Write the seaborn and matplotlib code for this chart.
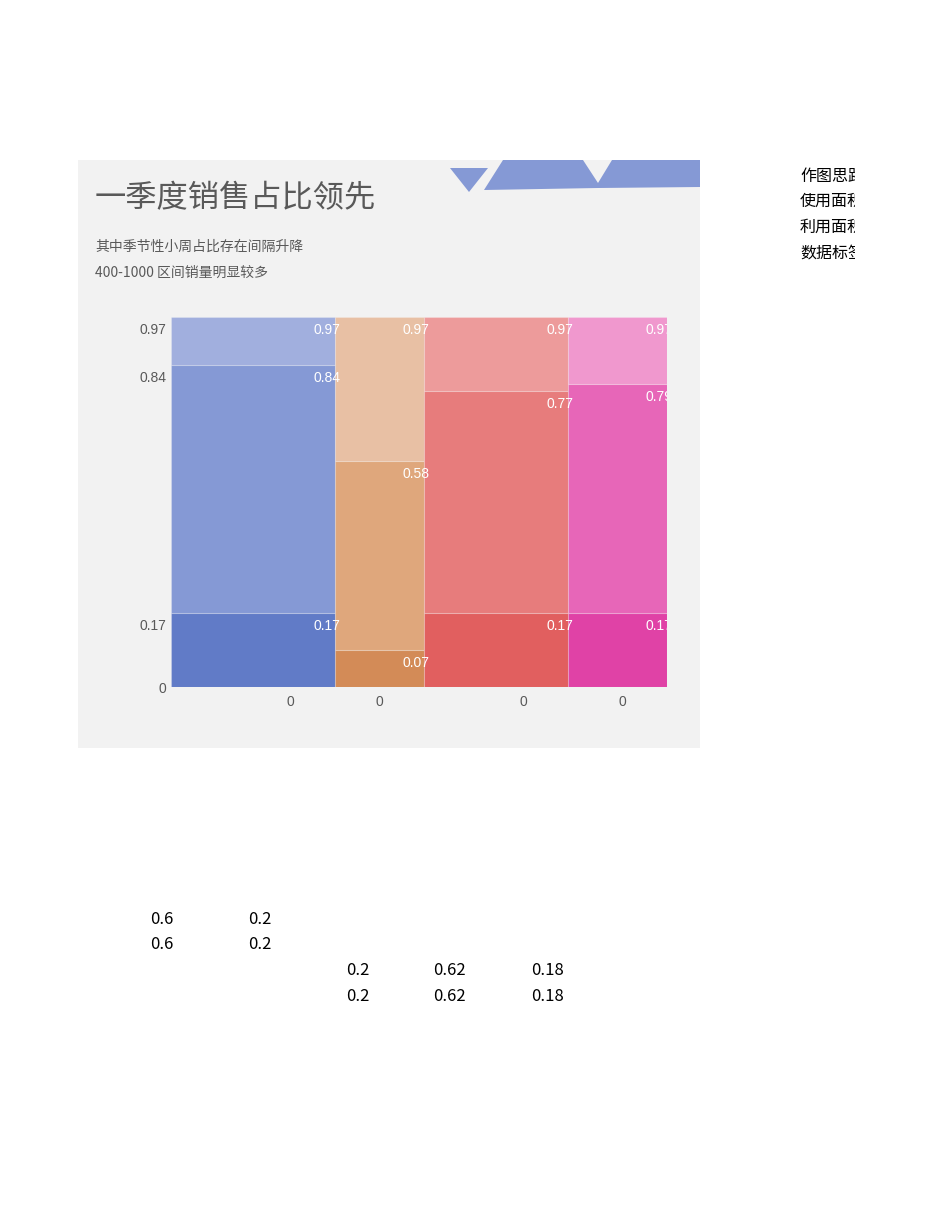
import numpy as np
import matplotlib
matplotlib.use("Agg")
import matplotlib.pyplot as plt
import matplotlib.transforms as mtransforms
from matplotlib.patches import Polygon, Rectangle
import seaborn as sns

# ---- data ----
columnas = ["Q1", "Q2", "Q3", "Q4"]
anchos = [0.33, 0.18, 0.29, 0.20]
# limites acumulados de cada segmento (bajo, medio, alto)
limites = [
    [0.17, 0.84, 0.97],
    [0.07, 0.58, 0.97],
    [0.17, 0.77, 0.97],
    [0.17, 0.79, 0.97],
]
y_ticks = [0, 0.17, 0.84, 0.97]
x_tick_labels = ["0", "0", "0", "0"]
colores = [
    ["#617bc7", "#8599d5", "#a1afde"],
    ["#d38b57", "#dfa77c", "#e8c0a4"],
    ["#e15f5f", "#e77c7c", "#ed9b9b"],
    ["#e042a6", "#e766b8", "#f098ce"],
]
titulo = "一季度销售占比领先"
subtitulos = ["其中季节性小周占比存在间隔升降", "400-1000 区间销量明显较多"]
notas = ["作图思路", "使用面积图", "利用面积图", "数据标签"]
tabla = [
    ["0.6", "0.2", "", "", ""],
    ["0.6", "0.2", "", "", ""],
    ["", "", "0.2", "0.62", "0.18"],
    ["", "", "0.2", "0.62", "0.18"],
]

sns.set_theme(style="white")
plt.rcParams["font.family"] = ["Noto Sans CJK SC", "DejaVu Sans"]

W, H = 950, 1230
fig = plt.figure(figsize=(9.5, 12.3), dpi=100)
fig.patch.set_facecolor("white")


def fx(px):
    return px / W


def fy(py):
    return 1 - py / H


# panel gris
fig.patches.append(Rectangle((fx(78), fy(748)), fx(700) - fx(78), fy(160) - fy(748),
                             transform=fig.transFigure, facecolor="#f2f2f2",
                             edgecolor="none", zorder=-2))

# decoracion de triangulos
azul = "#8599d5"
tri = [(450, 168), (488, 168), (469, 192)]
banda = [(484, 190), (503, 160), (583, 160), (598, 183), (612, 160),
         (700, 160), (700, 187), (598, 188)]
for pts in (tri, banda):
    fig.patches.append(Polygon([(fx(a), fy(b)) for a, b in pts], closed=True,
                               transform=fig.transFigure, facecolor=azul,
                               edgecolor="none", zorder=-1))

fig.text(fx(95), fy(198), titulo, fontsize=22.5, color="#595959", va="center", ha="left")
for i, s in enumerate(subtitulos):
    fig.text(fx(95), fy(247 + 26 * i), s, fontsize=10, color="#595959",
             va="center", ha="left")

# notas a la derecha (cortadas)
clip = Rectangle((fx(790), fy(300)), fx(855) - fx(790), fy(150) - fy(300),
                 transform=fig.transFigure, facecolor="none", edgecolor="none")
fig.patches.append(clip)
for i, s in enumerate(notas):
    t = fig.text(fx(800), fy(176 + 25.7 * i), s, fontsize=11.5, color="black",
                 va="center", ha="left")
    t.set_clip_path(clip)

# tabla inferior
col_x = [150, 248, 346, 433, 531]
for r, fila in enumerate(tabla):
    for c, v in enumerate(fila):
        if v:
            fig.text(fx(col_x[c]), fy(919 + 25.7 * r), v, fontsize=12,
                     color="black", va="center", ha="left")

# ---- marimekko ----
ax = fig.add_axes([fx(171), fy(687), fx(667) - fx(171), fy(317) - fy(687)])
ax.set_zorder(1)
ax.set_facecolor("#f2f2f2")
piso = -0.03
ax.set_xlim(0, 1)
ax.set_ylim(piso, 0.97)

bordes = np.concatenate([[0], np.cumsum(anchos)])
for i, nombre in enumerate(columnas):
    bajo = piso
    for j, alto in enumerate(limites[i]):
        ax.bar(bordes[i], alto - bajo, width=anchos[i], bottom=bajo, align="edge",
               color=colores[i][j], edgecolor=(1, 1, 1, 0.2), linewidth=0.8)
        bajo = alto

off_lbl = mtransforms.ScaledTranslation(-8 / 100, -13 / 100, fig.dpi_scale_trans)
for i in range(len(columnas)):
    for alto in limites[i]:
        ax.text(bordes[i + 1], alto, f"{alto:g}", transform=ax.transData + off_lbl,
                ha="center", va="center", color="white", fontsize=10,
                family=["Liberation Sans", "DejaVu Sans"], clip_on=True)

ax.set_xticks([])
ax.set_yticks([])
for s in ax.spines.values():
    s.set_visible(False)

off_y = mtransforms.ScaledTranslation(-5 / 100, -13 / 100, fig.dpi_scale_trans)
tr_y = mtransforms.blended_transform_factory(ax.transAxes, ax.transData)
for v in y_ticks:
    ax.text(0, v, f"{v:g}", transform=tr_y + off_y, ha="right", va="center",
            color="#595959", fontsize=10, family=["Liberation Sans", "DejaVu Sans"],
            clip_on=False)

off_x = mtransforms.ScaledTranslation(0, -15 / 100, fig.dpi_scale_trans)
tr_x = mtransforms.blended_transform_factory(ax.transData, ax.transAxes)
for i, lbl in enumerate(x_tick_labels):
    ax.text(bordes[i + 1] - 0.09, 0, lbl, transform=tr_x + off_x, ha="center",
            va="center", color="#595959", fontsize=10,
            family=["Liberation Sans", "DejaVu Sans"], clip_on=False)

fig.savefig("out.png", dpi=100)
